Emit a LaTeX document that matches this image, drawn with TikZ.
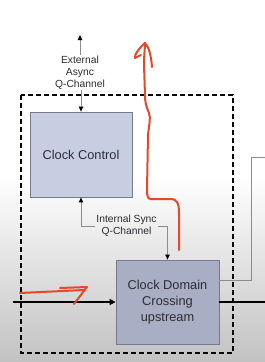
\documentclass[tikz,border=0pt]{standalone}
\usepackage{fontspec}
\setmainfont{Liberation Sans}
\usetikzlibrary{arrows.meta,positioning}

\definecolor{boxblue}{RGB}{200,206,226}
\definecolor{boxdark}{RGB}{168,175,196}
\definecolor{boxline}{RGB}{118,122,138}
\definecolor{wire}{RGB}{140,140,140}
\definecolor{ink}{RGB}{45,45,50}
\definecolor{pen}{RGB}{232,72,42}

\tikzset{
  block/.style={draw=boxline, line width=0.8pt, inner sep=0pt, align=center,
    text=ink, font=\fontsize{12.8}{16}\selectfont},
  qlabel/.style={inner sep=1pt, align=center, text=ink,
    font=\fontsize{10.3}{12}\selectfont},
  qwire/.style={draw=wire, line width=0.9pt,
    -{Triangle[length=5pt, width=4.5pt, color=black]}},
  datawire/.style={draw=black, line width=2pt},
  redpen/.style={draw=pen, line width=2pt, line cap=round, line join=round}
}

\begin{document}
\begin{tikzpicture}[x=1pt, y=-1pt]

  % -- Background (screen capture fades to grey) --
  \useasboundingbox (0,0) rectangle (265,362);
  \fill[white] (0,0) rectangle (265,176);
  \shade[top color=white, bottom color=black!24] (0,176) rectangle (265,362);

  % -- Enclosing domain --
  \draw[line width=1.3pt, dash pattern=on 5pt off 3pt] (21,95) rectangle (233,353);

  % -- Blocks --
  \node[block, fill=boxblue, minimum width=102pt, minimum height=85pt]
    (cc) at (81,154.5) {Clock Control};
  \node[block, fill=boxdark, minimum width=103pt, minimum height=84pt]
    (cdc) at (167.5,302) {Clock Domain\\Crossing\\upstream};

  % -- External Q-Channel --
  \node[qlabel] (extq) at (80,72.5) {External\\Async\\Q-Channel};
  \coordinate (extend) at (80,35);
  \draw[qwire] (extq.north) -- (extend);
  \draw[qwire] (extq.south -| cc.north) -- (cc.north);

  % -- Internal Q-Channel --
  \node[qlabel] (intq) at (126.5,226) {Internal Sync\\Q-Channel};
  \draw[qwire, {Triangle[length=5pt, width=4.5pt, color=black]}-] (cc.south) |- (intq.west);
  \draw[qwire] (intq.east) -| (cdc.north);

  % -- Onward wire (right) --
  \coordinate (bend) at (251,157);
  \coordinate (offpage) at (265,157);
  \draw[wire, line width=0.9pt] ([yshift=22pt]cdc.east) -| (bend) -- (offpage);

  % -- Data path --
  \coordinate (din) at (13,302);
  \coordinate (dout) at (265,302);
  \draw[datawire, -{Triangle[length=6pt, width=6pt]}] (din) -- (cdc.west);
  \draw[datawire] (cdc.east) -- (dout);

  % -- Hand-drawn annotations --
  \draw[redpen] (20,293) -- (84,290);
  \draw[redpen] (60,288) -- (87,287) -- (74,304);
  \draw[redpen] (179,250) -- (179,213) .. controls (179,203) and (177,199) .. (170,199)
    -- (151,199) .. controls (148,199) and (147,197) .. (147,190)
    -- (148,135) .. controls (149,125) and (151,118) .. (149,113)
    .. controls (146,106) and (145,102) .. (145,95)
    -- (144,65) .. controls (144,55) and (145,48) .. (145,43);
  \draw[redpen] (141,55) -- (135,58) .. controls (134,55) and (140,47) .. (145,43)
    .. controls (149,47) and (151,55) .. (152,67);

\end{tikzpicture}
\end{document}
